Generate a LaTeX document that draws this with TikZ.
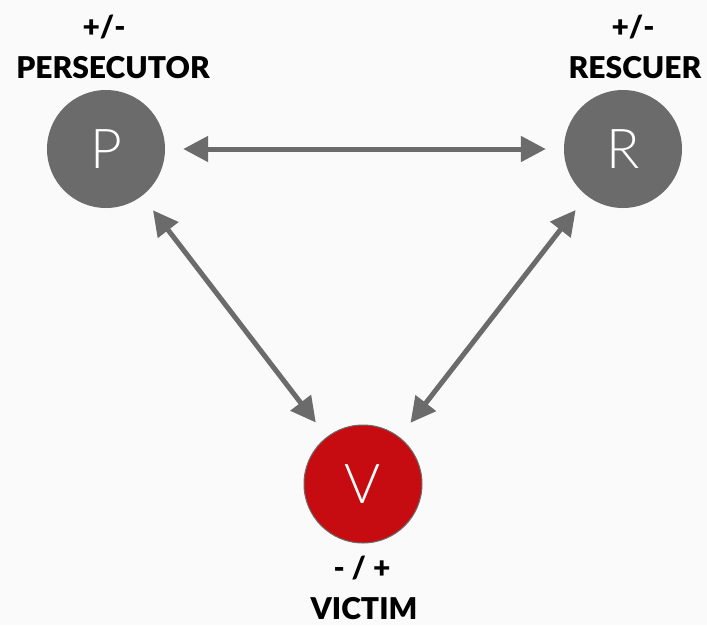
\documentclass[tikz,border=0pt]{standalone}
\usepackage{fontspec}
\setmainfont{Liberation Sans}
\newfontfamily\thinfont{Lato Light}
\newfontfamily\heavyfont{Lato Black}
\usetikzlibrary{arrows.meta}
\definecolor{nodegray}{RGB}{107,107,107}
\definecolor{victimred}{RGB}{198,12,16}
\definecolor{bg}{RGB}{250,250,250}
\tikzset{
  role/.style={circle, minimum size=118pt, inner sep=0pt, fill=nodegray, text=white, font=\thinfont\fontsize{55}{55}\selectfont},
  victim/.style={role, fill=victimred, draw=nodegray, line width=1pt},
  lbl/.style={font=\heavyfont\fontsize{30}{30}\selectfont, text=black, inner sep=0pt},
  link/.style={draw=nodegray, line width=5pt, {Triangle[length=25pt,width=25pt]}-{Triangle[length=25pt,width=25pt]}, shorten <=18pt, shorten >=18pt}
}
\begin{document}
\begin{tikzpicture}[x=1pt,y=-1pt]
\fill[bg] (0,0) rectangle (707,625);
\useasboundingbox (0,0) rectangle (707,625);
\node[role] (P) at (106,149) {P};
\node[role] (R) at (623,149) {R};
\node[victim] (V) at (363,484) {V};
\node[lbl] (ps) at (104,27) {+/-};
\node[lbl] (pn) at (113,68) {PERSECUTOR};
\node[lbl] (rs) at (633,27) {+/-};
\node[lbl] (rn) at (635,68) {RESCUER};
\node[lbl] (vs) at (362,568) {- / +};
\node[lbl, anchor=base] (vn) at (364,619) {VICTIM};
\draw[link] (P) -- (R);
\draw[link] (P) -- (V);
\draw[link] (R) -- (V);
\end{tikzpicture}
\end{document}
